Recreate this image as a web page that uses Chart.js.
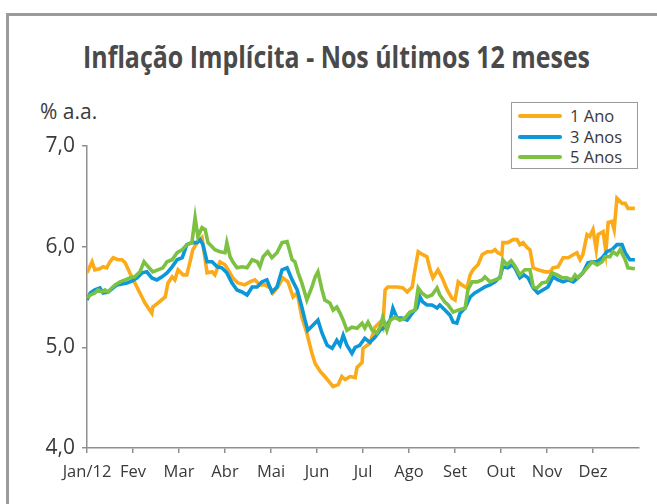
<!DOCTYPE html>
<html>
<head>
<meta charset="utf-8">
<script src="https://cdn.jsdelivr.net/npm/chart.js@4.4.1/dist/chart.umd.min.js"></script>
<style>
  body { margin: 0; background: #fff; }
  #wrap { position: relative; width: 657px; height: 504px; overflow: hidden; font-family: "Open Sans", sans-serif; color: #3a3a3a; }
  #frame { position: absolute; left: 6px; top: 13px; width: 800px; height: 700px; border-left: 3px solid #9b9b9b; border-top: 3px solid #9b9b9b; }
  #title { position: absolute; left: 83px; top: 35px; white-space: nowrap; font-size: 31px; font-weight: 700; color: #4a4a4a; transform-origin: left top; }
  #unit { position: absolute; left: 40px; top: 97px; font-size: 21px; color: #3a3a3a; }
  #legend { position: absolute; left: 511px; top: 102px; width: 125px; height: 65px; border: 1.5px solid #9b9b9b; }
  .row { position: absolute; left: 6px; height: 20px; font-size: 16.5px; line-height: 20px; }
  .row span.ln { position: absolute; left: 0; top: 8px; width: 44px; height: 4px; border-radius: 2px; }
  .row span.tx { position: absolute; left: 52px; top: 0; white-space: nowrap; }
  canvas { position: absolute; left: 0; top: 0; }
</style>
</head>
<body>
<div id="wrap">
  <div id="frame"></div>
  <div id="title">Inflação Implícita - Nos últimos 12 meses</div>
  <div id="unit">% a.a.</div>
  <div id="legend"></div>
  <canvas id="myChart" width="657" height="504"></canvas>
</div>
<script>
// eixo x em meses (0 = inicio de jan/12)
const monthLabels = ['Jan/12', 'Fev', 'Mar', 'Abr', 'Mai', 'Jun', 'Jul', 'Ago', 'Set', 'Out', 'Nov', 'Dez'];
const seriesNames = ['1 Ano', '3 Anos', '5 Anos'];
const seriesColors = ['#fbab19', '#0b97d8', '#7dc142'];

const ano1Months = [0,0.11,0.17,0.28,0.35,0.43,0.5,0.57,0.67,0.76,0.83,0.93,1.04,1.15,1.26,1.41,1.43,1.54,1.7,1.76,
  1.85,1.91,1.98,2.09,2.17,2.24,2.3,2.41,2.5,2.61,2.72,2.78,2.89,3.0,3.07,3.17,3.28,3.43,3.54,3.65,
  3.76,3.87,3.98,4.04,4.15,4.26,4.37,4.48,4.57,4.67,4.78,4.89,4.96,5.07,5.17,5.28,5.35,5.46,5.54,5.61,
  5.72,5.83,5.87,5.98,6.0,6.15,6.26,6.37,6.43,6.48,6.54,6.74,6.87,6.96,7.07,7.13,7.2,7.3,7.39,7.46,
  7.52,7.63,7.72,7.83,7.93,8.0,8.07,8.15,8.26,8.33,8.39,8.5,8.59,8.7,8.8,8.87,8.93,9.02,9.04,9.15,
  9.26,9.35,9.41,9.48,9.57,9.63,9.7,9.8,9.96,10.07,10.13,10.24,10.35,10.46,10.57,10.65,10.72,10.78,10.87,10.93,
  11.0,11.07,11.11,11.22,11.28,11.33,11.41,11.46,11.52,11.63,11.7,11.76,11.91];
const ano1Values = [5.74,5.85,5.77,5.78,5.80,5.79,5.85,5.89,5.87,5.87,5.84,5.74,5.64,5.54,5.44,5.34,5.40,5.44,5.50,5.64,
  5.70,5.67,5.77,5.72,5.72,5.85,5.97,6.05,6.09,5.74,5.75,5.72,5.85,5.82,5.77,5.69,5.64,5.62,5.65,5.67,
  5.62,5.62,5.59,5.54,5.60,5.69,5.65,5.50,5.54,5.30,5.14,4.94,4.84,4.76,4.71,4.65,4.61,4.63,4.71,4.68,
  4.71,4.70,4.80,4.85,4.99,5.04,5.20,5.25,5.20,5.57,5.60,5.60,5.59,5.55,5.60,5.77,5.95,5.92,5.90,5.77,
  5.69,5.77,5.69,5.57,5.49,5.47,5.65,5.62,5.59,5.72,5.77,5.82,5.92,5.95,5.95,5.97,5.94,5.92,6.04,6.04,
  6.07,6.07,6.02,6.04,5.99,5.97,5.79,5.77,5.75,5.75,5.79,5.80,5.89,5.89,5.92,5.94,5.87,5.92,6.12,6.10,
  6.17,5.97,6.12,6.15,5.95,6.24,6.25,6.17,6.48,6.43,6.43,6.38,6.38];

const ano3Months = [0,0.07,0.17,0.28,0.35,0.46,0.57,0.65,0.76,0.87,0.98,1.09,1.2,1.3,1.41,1.52,1.63,1.74,1.85,1.96,
  2.07,2.17,2.28,2.39,2.46,2.52,2.61,2.72,2.83,2.93,3.04,3.15,3.26,3.37,3.48,3.59,3.7,3.8,3.91,4.02,
  4.13,4.24,4.35,4.46,4.57,4.67,4.74,4.8,4.91,5.02,5.11,5.22,5.33,5.43,5.5,5.57,5.65,5.76,5.83,5.93,
  6.04,6.15,6.26,6.37,6.48,6.59,6.65,6.74,6.85,6.96,7.07,7.17,7.24,7.3,7.39,7.5,7.61,7.67,7.78,7.89,
  7.96,8.04,8.11,8.22,8.33,8.43,8.54,8.65,8.76,8.87,8.98,9.04,9.15,9.24,9.3,9.41,9.5,9.59,9.7,9.8,
  9.91,10.02,10.13,10.24,10.35,10.46,10.57,10.67,10.78,10.89,10.98,11.09,11.2,11.3,11.41,11.52,11.63,11.7,11.8,11.91];
const ano3Values = [5.47,5.54,5.57,5.59,5.54,5.55,5.59,5.62,5.63,5.64,5.66,5.69,5.74,5.75,5.69,5.67,5.70,5.74,5.80,5.87,
  5.89,6.02,6.04,6.04,6.07,6.02,5.85,5.85,5.80,5.79,5.74,5.64,5.57,5.55,5.52,5.60,5.60,5.65,5.67,5.55,
  5.60,5.77,5.79,5.67,5.57,5.40,5.27,5.17,5.22,5.27,5.14,5.02,4.99,5.07,5.02,5.12,5.02,4.94,5.00,5.02,
  5.09,5.05,5.10,5.17,5.20,5.27,5.39,5.29,5.29,5.27,5.34,5.39,5.50,5.45,5.42,5.42,5.39,5.42,5.37,5.32,
  5.25,5.24,5.34,5.39,5.50,5.54,5.57,5.60,5.62,5.65,5.70,5.80,5.79,5.82,5.79,5.69,5.72,5.69,5.59,5.54,
  5.57,5.60,5.70,5.67,5.65,5.67,5.65,5.69,5.74,5.84,5.85,5.85,5.89,5.95,5.97,6.02,6.02,5.94,5.87,5.87];

const ano5Months = [0,0.07,0.17,0.24,0.33,0.39,0.46,0.54,0.61,0.72,0.83,0.93,1.04,1.15,1.24,1.33,1.43,1.54,1.65,1.74,
  1.85,1.96,2.07,2.17,2.28,2.35,2.41,2.5,2.57,2.63,2.72,2.78,2.89,3.0,3.04,3.11,3.17,3.26,3.37,3.48,
  3.59,3.7,3.76,3.83,3.93,4.02,4.13,4.24,4.35,4.46,4.52,4.59,4.67,4.78,4.89,4.96,5.02,5.11,5.17,5.28,
  5.35,5.43,5.5,5.57,5.65,5.76,5.87,5.98,6.04,6.11,6.2,6.3,6.37,6.43,6.52,6.59,6.7,6.8,6.91,7.02,
  7.13,7.2,7.28,7.39,7.5,7.61,7.67,7.78,7.85,7.96,8.07,8.22,8.28,8.37,8.48,8.59,8.65,8.76,8.87,8.98,
  9.04,9.13,9.22,9.3,9.41,9.52,9.63,9.7,9.78,9.89,10.0,10.11,10.22,10.33,10.43,10.54,10.61,10.67,10.78,10.89,
  10.98,11.09,11.2,11.26,11.37,11.43,11.52,11.59,11.7,11.76,11.91];
const ano5Values = [5.49,5.52,5.54,5.57,5.55,5.57,5.55,5.59,5.62,5.65,5.67,5.69,5.70,5.75,5.85,5.80,5.75,5.77,5.79,5.85,
  5.87,5.94,5.97,6.02,6.04,6.29,6.10,6.19,6.17,6.04,6.00,5.97,5.95,5.94,6.04,5.90,5.85,5.79,5.80,5.79,
  5.87,5.85,5.80,5.90,5.95,5.89,5.94,6.04,6.05,5.87,5.85,5.74,5.64,5.47,5.60,5.70,5.75,5.57,5.47,5.44,
  5.37,5.40,5.34,5.27,5.17,5.20,5.19,5.24,5.19,5.25,5.17,5.14,5.20,5.30,5.17,5.27,5.30,5.27,5.29,5.35,
  5.37,5.59,5.54,5.50,5.52,5.59,5.52,5.45,5.42,5.35,5.37,5.39,5.57,5.65,5.65,5.67,5.70,5.65,5.67,5.69,
  5.87,5.82,5.86,5.81,5.72,5.77,5.77,5.60,5.59,5.64,5.65,5.74,5.72,5.69,5.69,5.67,5.72,5.69,5.74,5.80,
  5.85,5.82,5.85,5.90,5.90,5.95,5.92,5.97,5.87,5.79,5.78];

const yTicks = [4, 5, 6, 7];

function toPoints(months, values) {
  return months.map((m, i) => ({ x: m, y: values[i] }));
}

const allMonths = [ano1Months, ano3Months, ano5Months];
const allValues = [ano1Values, ano3Values, ano5Values];

const datasets = seriesNames.map((name, i) => ({
  label: name,
  data: toPoints(allMonths[i], allValues[i]),
  borderColor: seriesColors[i],
  backgroundColor: seriesColors[i],
  borderWidth: 3.6,
  pointRadius: 0,
  tension: 0,
  order: 3 - i
}));

// legenda
const legend = document.getElementById('legend');
seriesNames.forEach((name, i) => {
  const row = document.createElement('div');
  row.className = 'row';
  row.style.top = (3 + i * 20.5) + 'px';
  row.innerHTML = '<span class="ln" style="background:' + seriesColors[i] + '"></span><span class="tx">' + name + '</span>';
  legend.appendChild(row);
});

// titulo mais estreito
const title = document.getElementById('title');
const tw = title.getBoundingClientRect().width;
title.style.transform = 'scaleX(' + (507 / tw) + ')';

const axisColor = '#8f8f8f';

const config = {
  type: 'line',
  data: { datasets: datasets },
  options: {
    responsive: false,
    animation: false,
    layout: { padding: { left: 0, top: 146, right: 18, bottom: 0 } },
    plugins: { legend: { display: false }, tooltip: { enabled: false }, title: { display: false } },
    scales: {
      x: {
        type: 'linear',
        min: 0,
        max: 12,
        afterBuildTicks: s => { s.ticks = monthLabels.map((_, i) => ({ value: i })); },
        afterFit: s => { s.height = 56; },
        ticks: {
          autoSkip: false,
          maxRotation: 0,
          padding: 9,
          color: '#3a3a3a',
          font: { family: 'Open Sans', size: 16.5 },
          callback: v => monthLabels[v]
        },
        grid: { drawOnChartArea: false, drawTicks: true, tickLength: 5, color: axisColor, lineWidth: 1.5 },
        border: { color: axisColor, width: 1.5 }
      },
      y: {
        min: 4,
        max: 7,
        afterBuildTicks: s => { s.ticks = yTicks.map(v => ({ value: v })); },
        afterFit: s => { s.width = 87; },
        ticks: {
          padding: 7,
          color: '#3a3a3a',
          font: { family: 'Open Sans', size: 21 },
          callback: v => v.toFixed(1).replace('.', ',')
        },
        grid: { drawOnChartArea: false, drawTicks: true, tickLength: 5, color: axisColor, lineWidth: 1.5 },
        border: { color: axisColor, width: 1.5 }
      }
    }
  }
};

const myChart = new Chart(document.getElementById('myChart'), config);
</script>
</body>
</html>
